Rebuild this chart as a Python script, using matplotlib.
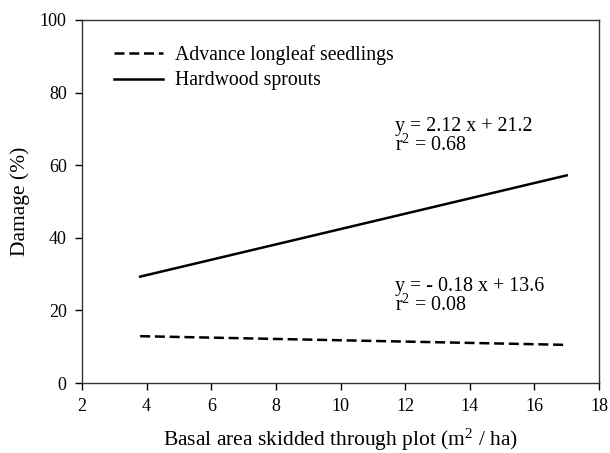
import matplotlib
matplotlib.use("Agg")
import matplotlib.pyplot as plt

plt.rcParams['font.family'] = ['Liberation Serif', 'DejaVu Serif']
plt.rcParams['mathtext.fontset'] = 'custom'
plt.rcParams['mathtext.rm'] = 'Liberation Serif'
plt.rcParams['mathtext.it'] = 'Liberation Serif:italic'

# Data (regression line endpoints)
x_vals = [3.8, 17.0]
longleaf = [12.9, 10.5]
hardwood = [29.3, 57.2]
series_labels = ["Advance longleaf seedlings", "Hardwood sprouts"]
eq_hardwood = ["y = 2.12 x + 21.2", "r$^2$ = 0.68"]
eq_longleaf = ["y = - 0.18 x + 13.6", "r$^2$ = 0.08"]
x_ticks = [2, 4, 6, 8, 10, 12, 14, 16, 18]
y_ticks = [0, 20, 40, 60, 80, 100]

fig = plt.figure(figsize=(6.1, 4.53), dpi=100)
ax = fig.add_axes([82/610, 1-383/453, 517/610, 363/453])

lw = 1.8
ax.plot(x_vals, longleaf, color='black', lw=lw, dashes=(4.0, 1.9), label=series_labels[0])
ax.plot(x_vals, hardwood, color='black', lw=lw, label=series_labels[1])

ax.set_xlim(2, 18)
ax.set_ylim(0, 100)
ax.set_xticks(x_ticks)
ax.set_yticks(y_ticks)
ax.tick_params(direction='out', length=5, width=1, labelsize=13, top=False, right=False, pad=6)
for s in ax.spines.values():
    s.set_linewidth(1.0)
    s.set_color('#333333')

ax.set_xlabel("Basal area skidded through plot (m$^{2}$ / ha)", fontsize=15.5)
ax.set_ylabel("Damage (%)", fontsize=15.5)
ax.xaxis.set_label_coords(0.5, -0.12)
ax.yaxis.set_label_coords(-0.10, 0.5)

leg = ax.legend(loc='upper left', bbox_to_anchor=(0.062, 0.932), frameon=False,
                fontsize=14.2, handlelength=2.5, handletextpad=0.6, labelspacing=0.35,
                borderpad=0, borderaxespad=0)

fs = 14.4
ax.text(11.69, 70.6, eq_hardwood[0], fontsize=fs, va='center', ha='left')
ax.text(11.69, 65.6, eq_hardwood[1], fontsize=fs, va='center', ha='left')
ax.text(11.69, 26.5, eq_longleaf[0], fontsize=fs, va='center', ha='left')
ax.text(11.69, 21.5, eq_longleaf[1], fontsize=fs, va='center', ha='left')

fig.savefig("out.png", dpi=100)
